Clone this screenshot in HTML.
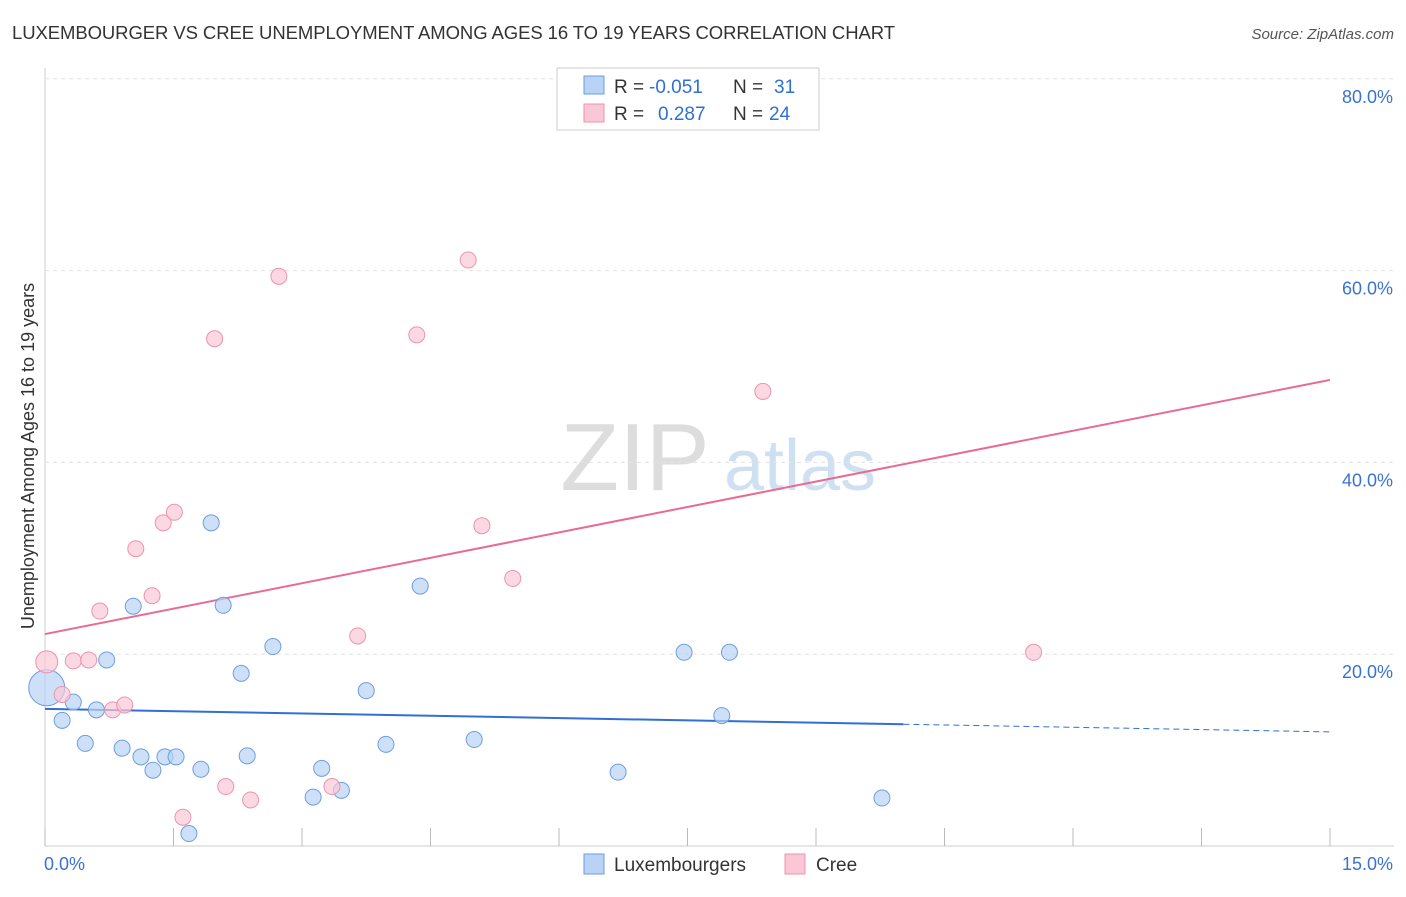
<!DOCTYPE html>
<html><head><meta charset="utf-8"><style>
body{margin:0;background:#fff;font-family:"Liberation Sans",sans-serif}
svg text{font-family:"Liberation Sans",sans-serif}
</style></head><body>
<svg id="c" width="1406" height="892">
<text x="12" y="39" font-size="18.5" fill="#333" textLength="883">LUXEMBOURGER VS CREE UNEMPLOYMENT AMONG AGES 16 TO 19 YEARS CORRELATION CHART</text>
<text x="1394" y="39" font-size="15" fill="#555" font-style="italic" text-anchor="end">Source: ZipAtlas.com</text>
<text x="0" y="0" font-size="18" fill="#333" text-anchor="middle" transform="translate(34,456) rotate(-90)">Unemployment Among Ages 16 to 19 years</text>
<g><text x="635" y="490" font-size="96" fill="#ddd" font-family="Liberation Serif" text-anchor="middle">ZIP</text><text x="800" y="490" font-size="72" fill="#cfe0f3" text-anchor="middle">atlas</text></g>
<g id="grid"></g><g id="lines"></g><g id="pts"></g>
<g>
<rect x="557" y="68" width="262" height="62" fill="#fff" stroke="#ccc"/>
<rect x="584" y="76" width="20" height="18" fill="#b8d3f5" stroke="#6d9ee0"/>
<rect x="584" y="104" width="20" height="18" fill="#fac7d6" stroke="#ec93ae"/>
<text x="614" y="93" font-size="19" fill="#333">R =</text>
<text x="649" y="93" font-size="19" fill="#2f6fd6">-0.051</text>
<text x="733" y="93" font-size="19" fill="#333">N =</text>
<text x="774" y="93" font-size="19" fill="#2f6fd6">31</text>
<text x="614" y="120" font-size="19" fill="#333">R =</text>
<text x="658" y="120" font-size="19" fill="#2f6fd6">0.287</text>
<text x="733" y="120" font-size="19" fill="#333">N =</text>
<text x="769" y="120" font-size="19" fill="#2f6fd6">24</text>
</g>
<g>
<rect x="584" y="854" width="20" height="20" fill="#b8d3f5" stroke="#6d9ee0"/>
<text x="614" y="871" font-size="19" fill="#333">Luxembourgers</text>
<rect x="785" y="854" width="20" height="20" fill="#fac7d6" stroke="#ec93ae"/>
<text x="816" y="871" font-size="19" fill="#333">Cree</text>
</g>
<text x="44" y="870" font-size="18" fill="#3a72d0">0.0%</text>
<text x="1393" y="870" font-size="18" fill="#3a72d0" text-anchor="end">15.0%</text>
</svg>
<script>
const blueX=[0.02,0.2,0.33,0.47,0.6,0.72,0.9,1.03,1.12,1.26,1.4,1.53,1.68,1.82,1.94,2.08,2.29,2.36,2.66,3.13,3.23,3.46,3.75,3.98,4.38,5.01,6.69,7.46,7.9,7.99,9.77];
const blueY=[16.5,13.1,15.0,10.7,14.2,19.4,10.2,25.0,9.3,7.9,9.3,9.3,1.3,8.0,33.7,25.1,18.0,9.4,20.8,5.1,8.1,5.8,16.2,10.6,27.1,11.1,7.7,20.2,13.6,20.2,5.0];
const pinkX=[0.02,0.2,0.33,0.51,0.64,0.79,0.93,1.06,1.25,1.38,1.51,1.61,1.98,2.11,2.4,2.73,3.35,3.65,4.34,4.94,5.1,5.46,8.38,11.54];
const pinkY=[19.2,15.8,19.3,19.4,24.5,14.2,14.7,31.0,26.1,33.7,34.8,3.0,52.9,6.2,4.8,59.4,6.2,21.9,53.3,61.1,33.4,27.9,47.4,20.2];
const blueTrend=[14.3,11.9];
const pinkTrend=[22.1,48.6];
const yTicks=[20,40,60,80];
const xTicks=[0,1.5,3,4.5,6,7.5,9,10.5,12,13.5,15];
const X=v=>45+v/15*1285, Y=v=>846-v*9.59;
const NS="http://www.w3.org/2000/svg";
function mk(p,t,a){const e=document.createElementNS(NS,t);for(const k in a)e.setAttribute(k,a[k]);p.appendChild(e);return e;}
const g=document.getElementById('grid');
mk(g,'line',{x1:45,y1:846,x2:1394,y2:846,stroke:'#ccc'});
mk(g,'line',{x1:45,y1:68,x2:45,y2:846,stroke:'#ccc'});
yTicks.forEach(t=>{
 const l=mk(g,'line',{x1:45,y1:Y(t),x2:1394,y2:Y(t),stroke:'#e3e3e3','stroke-dasharray':'4,4'});
 
 
 const tx=mk(g,'text',{x:1393,y:Y(t)+24,'font-size':18,fill:'#3a72d0','text-anchor':'end'});tx.textContent=t.toFixed(1)+'%';
 
 
});
xTicks.forEach(t=>{
 const l=mk(g,'line',{x1:X(t),y1:828,x2:X(t),y2:846,stroke:'#bbb'});
 
 
});
const ln=document.getElementById('lines');
const bx=10.02;
const bm=blueTrend[0]+(blueTrend[1]-blueTrend[0])*bx/15;
let a=mk(ln,'line',{x1:X(0),y1:Y(blueTrend[0]),x2:X(bx),y2:Y(bm),stroke:'#2f6fd6','stroke-width':2});


a=mk(ln,'line',{x1:X(bx),y1:Y(bm),x2:X(15),y2:Y(blueTrend[1]),stroke:'#2f6fd6','stroke-width':1,'stroke-dasharray':'6,4'});


a=mk(ln,'line',{x1:X(0),y1:Y(pinkTrend[0]),x2:X(15),y2:Y(pinkTrend[1]),stroke:'#e86a95','stroke-width':2});


const p=document.getElementById('pts');
blueX.forEach((x,i)=>{
 const c=mk(p,'circle',{cx:X(x),cy:Y(blueY[i]),r:i==0?18:8,fill:'rgba(184,211,245,0.7)',stroke:'#6d9ee0','stroke-width':1});
 
 
});
pinkX.forEach((x,i)=>{
 const c=mk(p,'circle',{cx:X(x),cy:Y(pinkY[i]),r:i==0?11:8,fill:'rgba(250,199,214,0.7)',stroke:'#ec93ae','stroke-width':1});
 
 
});
</script>
</body></html>
